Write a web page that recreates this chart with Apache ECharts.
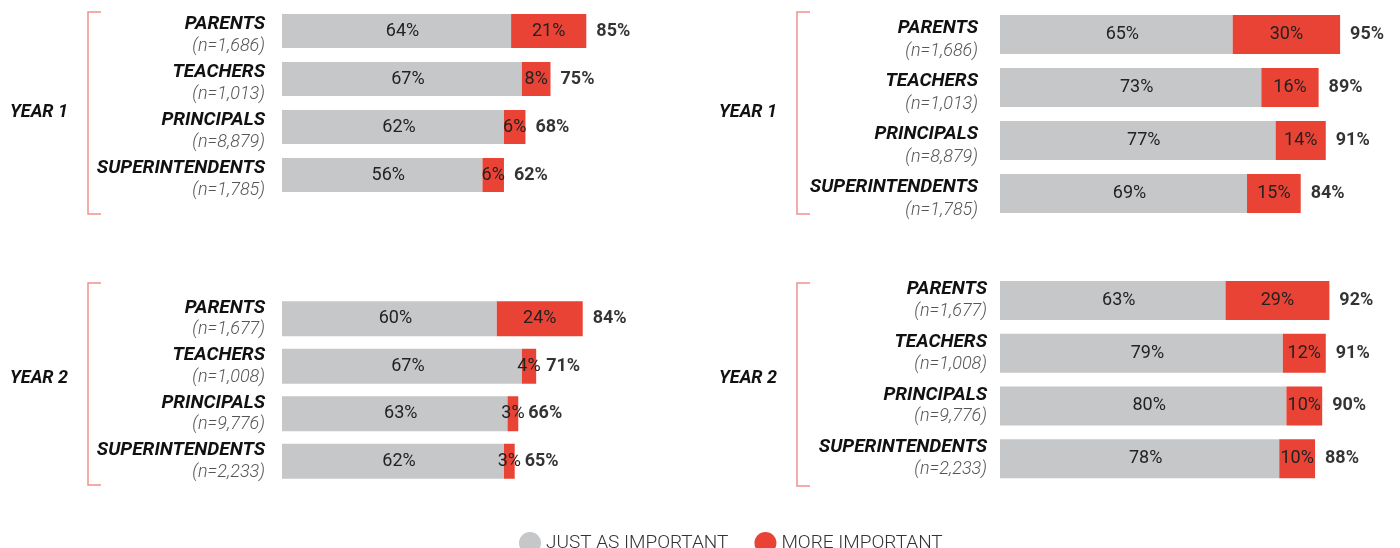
<!DOCTYPE html>
<html>
<head>
<meta charset="utf-8">
<script src="https://cdn.jsdelivr.net/npm/echarts@6/dist/echarts.min.js"></script>
<style>
  html, body { margin: 0; padding: 0; background: #fff; }
  #chart { width: 1400px; height: 548px; }
</style>
</head>
<body>
<div id="chart"></div>
<script>
// groups
var categories = ['PARENTS', 'TEACHERS', 'PRINCIPALS', 'SUPERINTENDENTS'];

// year 1, left panel
var nY1L = ['1,686', '1,013', '8,879', '1,785'];
var justY1L = [64, 67, 62, 56];
var moreY1L = [21, 8, 6, 6];
var totalY1L = [85, 75, 68, 62];

// year 1, right panel
var nY1R = ['1,686', '1,013', '8,879', '1,785'];
var justY1R = [65, 73, 77, 69];
var moreY1R = [30, 16, 14, 15];
var totalY1R = [95, 89, 91, 84];

// year 2, left panel
var nY2L = ['1,677', '1,008', '9,776', '2,233'];
var justY2L = [60, 67, 63, 62];
var moreY2L = [24, 4, 3, 3];
var totalY2L = [84, 71, 66, 65];

// year 2, right panel
var nY2R = ['1,677', '1,008', '9,776', '2,233'];
var justY2R = [63, 79, 80, 78];
var moreY2R = [29, 12, 10, 10];
var totalY2R = [92, 91, 90, 88];

var GREY = '#c6c7c9';
var RED = '#e94336';
var FONT = 'Roboto, "Noto Sans", sans-serif';

var panels = [
  { n: nY1L, just: justY1L, more: moreY1L, total: totalY1L, year: 'YEAR 1',
    grid: { left: 282, top: 7, height: 192 }, barWidth: 34, margin: 17, pad: [8, 0, 0, 0], lh: 22,
    yearX: 10, yearY: 113, bx: 88, by: [12, 214] },
  { n: nY1R, just: justY1R, more: moreY1R, total: totalY1R, year: 'YEAR 1',
    grid: { left: 1000, top: 8, height: 212 }, barWidth: 39, margin: 22, pad: [10, 0, 0, 0], lh: 23,
    yearX: 719, yearY: 113, bx: 797, by: [12, 214] },
  { n: nY2L, just: justY2L, more: moreY2L, total: totalY2L, year: 'YEAR 2',
    grid: { left: 282, top: 295, height: 190 }, barWidth: 35, margin: 17, pad: [0, 0, 0, 0], lh: 22,
    yearX: 10, yearY: 379, bx: 88, by: [283, 485] },
  { n: nY2R, just: justY2R, more: moreY2R, total: totalY2R, year: 'YEAR 2',
    grid: { left: 1000, top: 274, height: 211 }, barWidth: 39, margin: 13, pad: [0, 0, 0, 0], lh: 22,
    yearX: 719, yearY: 379, bx: 797, by: [283, 486] }
];

var grids = [], xAxes = [], yAxes = [], series = [], graphics = [];

panels.forEach(function (p, k) {
  grids.push({ left: p.grid.left, top: p.grid.top, height: p.grid.height, width: 358 });
  xAxes.push({ gridIndex: k, type: 'value', min: 0, max: 100, show: false });
  yAxes.push({
    gridIndex: k, type: 'category', inverse: true, data: categories,
    axisLine: { show: false }, axisTick: { show: false },
    axisLabel: {
      margin: p.margin, align: 'right', padding: p.pad,
      formatter: function (v, i) { return '{a|' + v + '}\n{b|(n=' + p.n[i] + ')}'; },
      rich: {
        a: { fontFamily: FONT, fontSize: 19, fontWeight: 'bold', fontStyle: 'italic', color: '#111', lineHeight: p.lh, align: 'right' },
        b: { fontFamily: FONT, fontSize: 18, fontWeight: 300, fontStyle: 'italic', color: '#555', lineHeight: p.lh, align: 'right' }
      }
    }
  });
  var lbl = { show: true, position: 'inside', formatter: '{c}%', fontFamily: FONT, fontSize: 18, color: '#222' };
  series.push({
    name: 'JUST AS IMPORTANT', type: 'bar', stack: 's' + k, xAxisIndex: k, yAxisIndex: k,
    barWidth: p.barWidth, data: p.just, itemStyle: { color: GREY },
    label: Object.assign({}, lbl, { offset: [6, 0] })
  });
  series.push({
    name: 'MORE IMPORTANT', type: 'bar', stack: 's' + k, xAxisIndex: k, yAxisIndex: k,
    barWidth: p.barWidth, data: p.more, itemStyle: { color: RED }, label: lbl
  });
  series.push({
    name: 'total', type: 'scatter', xAxisIndex: k, yAxisIndex: k, symbolSize: 0,
    data: p.total.map(function (t, i) { return [t, categories[i]]; }),
    label: {
      show: true, position: 'right', distance: 10,
      formatter: function (d) { return d.value[0] + '%'; },
      fontFamily: FONT, fontSize: 18, fontWeight: 'bold', color: '#000'
    },
    silent: true
  });
  graphics.push({
    type: 'text', left: p.yearX, top: p.yearY - 10,
    style: { text: p.year, fontFamily: FONT, fontSize: 18, fontWeight: 'bold', fontStyle: 'italic', fill: '#111' }
  });
  graphics.push({
    type: 'polyline',
    shape: { points: [[p.bx + 13, p.by[0]], [p.bx, p.by[0]], [p.bx, p.by[1]], [p.bx + 13, p.by[1]]] },
    style: { stroke: '#f0918a', lineWidth: 1.5, fill: null }
  });
});

var chart = echarts.init(document.getElementById('chart'));
chart.setOption({
  animation: false,
  grid: grids,
  xAxis: xAxes,
  yAxis: yAxes,
  series: series,
  graphic: graphics,
  legend: {
    data: ['JUST AS IMPORTANT', 'MORE IMPORTANT'],
    left: 514, top: 527,
    icon: 'circle', itemWidth: 22, itemHeight: 22, itemGap: 26,
    textStyle: { fontFamily: FONT, fontSize: 19, fontWeight: 300, color: '#333' }
  }
});
</script>
</body>
</html>
